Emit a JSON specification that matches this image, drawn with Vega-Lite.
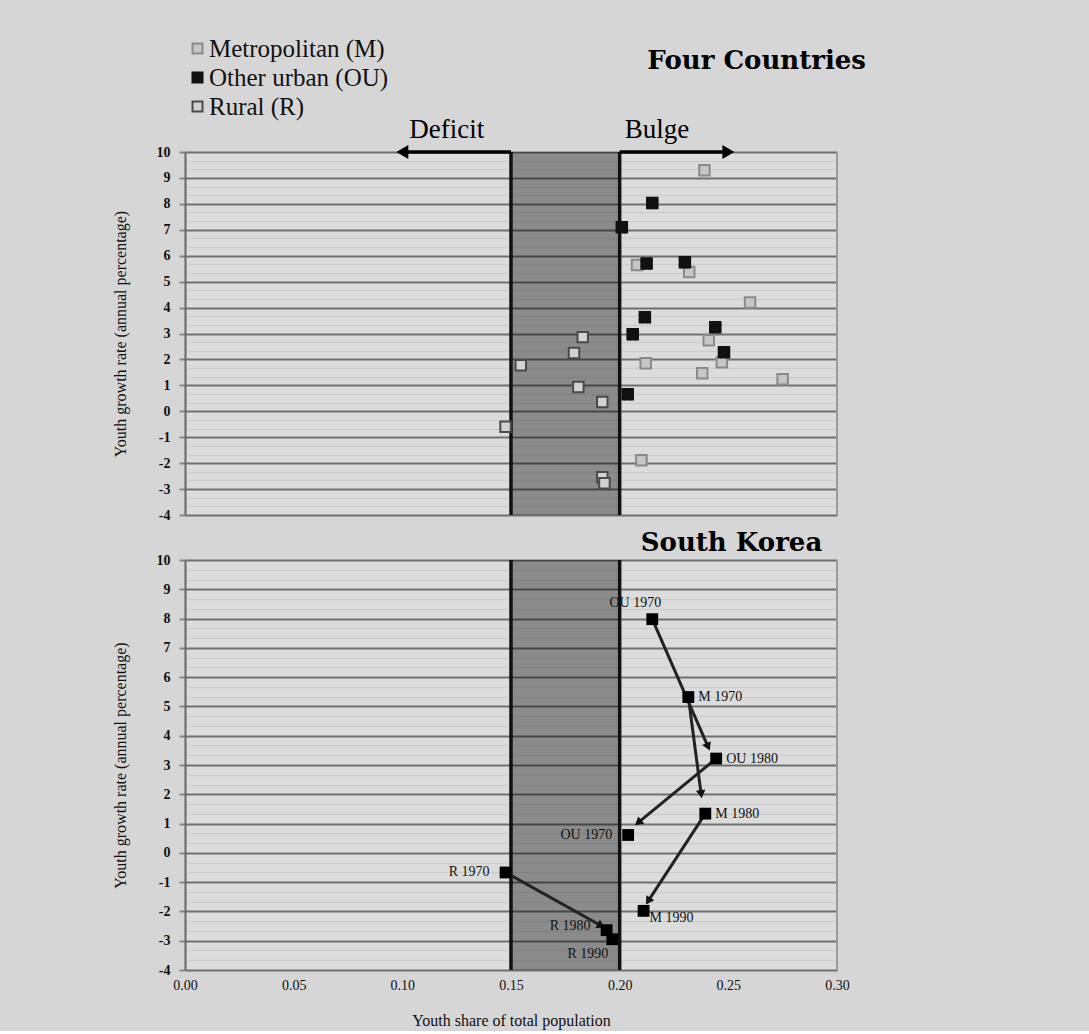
{
  "$schema": "https://vega.github.io/schema/vega-lite/v6.json",
  "background": "#d6d6d6",
  "padding": {"left": 112, "top": 36, "right": 224, "bottom": 3},
  "spacing": 8,
  "config": {
    "view": {"stroke": null, "fill": "#dcdcdc"},
    "font": "Liberation Serif",
    "axis": {"labelFont": "Liberation Serif", "titleFont": "Liberation Serif", "labelColor": "#111", "titleColor": "#111", "titleFontWeight": "normal"}
  },
  "datasets": {
    "four": [
      {"cat": "Metropolitan (M)", "x": 0.239, "y": 9.3},
      {"cat": "Metropolitan (M)", "x": 0.208, "y": 5.64},
      {"cat": "Metropolitan (M)", "x": 0.232, "y": 5.37},
      {"cat": "Metropolitan (M)", "x": 0.26, "y": 4.2},
      {"cat": "Metropolitan (M)", "x": 0.241, "y": 2.74},
      {"cat": "Metropolitan (M)", "x": 0.247, "y": 1.89},
      {"cat": "Metropolitan (M)", "x": 0.212, "y": 1.85},
      {"cat": "Metropolitan (M)", "x": 0.238, "y": 1.47},
      {"cat": "Metropolitan (M)", "x": 0.275, "y": 1.24},
      {"cat": "Metropolitan (M)", "x": 0.21, "y": -1.89},
      {"cat": "Other urban (OU)", "x": 0.215, "y": 8.03},
      {"cat": "Other urban (OU)", "x": 0.201, "y": 7.1},
      {"cat": "Other urban (OU)", "x": 0.2124, "y": 5.7},
      {"cat": "Other urban (OU)", "x": 0.23, "y": 5.75},
      {"cat": "Other urban (OU)", "x": 0.2116, "y": 3.63},
      {"cat": "Other urban (OU)", "x": 0.206, "y": 2.97},
      {"cat": "Other urban (OU)", "x": 0.244, "y": 3.24},
      {"cat": "Other urban (OU)", "x": 0.248, "y": 2.28},
      {"cat": "Other urban (OU)", "x": 0.2037, "y": 0.66},
      {"cat": "Rural (R)", "x": 0.183, "y": 2.86},
      {"cat": "Rural (R)", "x": 0.179, "y": 2.25},
      {"cat": "Rural (R)", "x": 0.1545, "y": 1.78},
      {"cat": "Rural (R)", "x": 0.181, "y": 0.94},
      {"cat": "Rural (R)", "x": 0.192, "y": 0.36},
      {"cat": "Rural (R)", "x": 0.1475, "y": -0.6},
      {"cat": "Rural (R)", "x": 0.192, "y": -2.54},
      {"cat": "Rural (R)", "x": 0.193, "y": -2.78}
    ],
    "sk": [
      {"cat": "M", "year": 1970, "x": 0.2316, "y": 5.32, "label": "M 1970"},
      {"cat": "M", "year": 1980, "x": 0.2394, "y": 1.34, "label": "M 1980"},
      {"cat": "M", "year": 1990, "x": 0.211, "y": -1.98, "label": "M 1990"},
      {"cat": "OU", "year": 1970, "x": 0.215, "y": 7.98, "label": "OU 1970"},
      {"cat": "OU", "year": 1980, "x": 0.2444, "y": 3.22, "label": "OU 1980"},
      {"cat": "OU", "year": 1990, "x": 0.2039, "y": 0.61, "label": "OU 1970"},
      {"cat": "R", "year": 1970, "x": 0.1475, "y": -0.67, "label": "R 1970"},
      {"cat": "R", "year": 1980, "x": 0.194, "y": -2.64, "label": "R 1980"},
      {"cat": "R", "year": 1990, "x": 0.1966, "y": -2.95, "label": "R 1990"}
    ],
    "arrows": [
      {"cat": "OU", "x": 0.215, "y": 7.98, "x2": 0.2407, "y2": 3.62},
      {"cat": "OU", "x": 0.2444, "y": 3.22, "x2": 0.2085, "y2": 1.03},
      {"cat": "M", "x": 0.2316, "y": 5.32, "x2": 0.2375, "y2": 2.0},
      {"cat": "M", "x": 0.2394, "y": 1.34, "x2": 0.2131, "y2": -1.65},
      {"cat": "R", "x": 0.1475, "y": -0.67, "x2": 0.1915, "y2": -2.49}
    ]
  },
  "vconcat": [
    {
      "width": 652,
      "height": 363,
      "title": {"text": "Four Countries", "anchor": "end", "fontSize": 26, "fontWeight": "bold", "font": "DejaVu Serif", "color": "#000", "offset": 42, "dx": 28},
      "layer": [
        {
          "data": {"values": [{}]},
          "mark": {"type": "rect", "color": "#000", "opacity": 0.37},
          "encoding": {
            "x": {"datum": 0.15, "type": "quantitative", "scale": {"domain": [0, 0.3], "nice": false}, "axis": null},
            "x2": {"datum": 0.2},
            "y": {"datum": -4, "type": "quantitative", "scale": {"domain": [-4, 10], "nice": false},
              "axis": {"orient": "left", "tickCount": 200, "values": [-4, -3.6667, -3.3333, -3, -2.6667, -2.3333, -2, -1.6667, -1.3333, -1, -0.6667, -0.3333, 0, 0.3333, 0.6667, 1, 1.3333, 1.6667, 2, 2.3333, 2.6667, 3, 3.3333, 3.6667, 4, 4.3333, 4.6667, 5, 5.3333, 5.6667, 6, 6.3333, 6.6667, 7, 7.3333, 7.6667, 8, 8.3333, 8.6667, 9, 9.3333, 9.6667, 10],
                "labelExpr": "datum.value % 1 === 0 ? datum.value + '' : ''", "labelOverlap": false, "labelFlush": false,
                "grid": true,
                "gridColor": {"condition": {"test": "datum.value % 1 === 0", "value": "#707070"}, "value": "#cdcdcd"},
                "gridWidth": {"condition": {"test": "datum.value % 1 === 0", "value": 2}, "value": 1.5},
                "tickColor": {"condition": {"test": "datum.value % 1 === 0", "value": "#888888"}, "value": "transparent"},
                "domainColor": "#666", "domainWidth": 2, "tickSize": 6, "tickWidth": 2,
                "labelFontSize": 14, "labelFontWeight": "bold", "labelPadding": 9, "titleFontSize": 16, "titlePadding": 28, "title": "Youth growth rate (annual percentage)"}},
            "y2": {"datum": 10}
          }
        },
        {
          "data": {"values": [{}]},
          "mark": {"type": "rule", "color": "#9a9a9a", "strokeWidth": 2},
          "encoding": {"x": {"datum": 0.3}, "y": {"datum": -4}, "y2": {"datum": 10}}
        },
        {
          "data": {"values": [{}]},
          "mark": {"type": "rule", "color": "#111", "strokeWidth": 3.5},
          "encoding": {"x": {"datum": 0.15}, "y": {"datum": -4}, "y2": {"datum": 10}}
        },
        {
          "data": {"values": [{}]},
          "mark": {"type": "rule", "color": "#111", "strokeWidth": 3.5},
          "encoding": {"x": {"datum": 0.2}, "y": {"datum": -4}, "y2": {"datum": 10}}
        },
        {
          "data": {"values": [{}]},
          "mark": {"type": "rule", "color": "#000", "strokeWidth": 3.5},
          "encoding": {"x": {"datum": 0.1}, "x2": {"datum": 0.15}, "y": {"datum": 10}}
        },
        {
          "data": {"values": [{}]},
          "mark": {"type": "rule", "color": "#000", "strokeWidth": 3.5},
          "encoding": {"x": {"datum": 0.2}, "x2": {"datum": 0.25}, "y": {"datum": 10}}
        },
        {
          "data": {"values": [{}]},
          "mark": {"type": "point", "shape": "triangle-left", "filled": true, "color": "#000", "size": 190, "opacity": 1},
          "encoding": {"x": {"datum": 0.1}, "y": {"datum": 10}}
        },
        {
          "data": {"values": [{}]},
          "mark": {"type": "point", "shape": "triangle-right", "filled": true, "color": "#000", "size": 190, "opacity": 1},
          "encoding": {"x": {"datum": 0.25}, "y": {"datum": 10}}
        },
        {
          "data": {"values": [{}]},
          "mark": {"type": "text", "text": "Deficit", "font": "Liberation Serif", "fontSize": 27, "align": "left", "baseline": "alphabetic", "dx": 7, "dy": -14, "color": "#000"},
          "encoding": {"x": {"datum": 0.1}, "y": {"datum": 10}}
        },
        {
          "data": {"values": [{}]},
          "mark": {"type": "text", "text": "Bulge", "font": "Liberation Serif", "fontSize": 27, "align": "left", "baseline": "alphabetic", "dx": 5, "dy": -14, "color": "#000"},
          "encoding": {"x": {"datum": 0.2}, "y": {"datum": 10}}
        },
        {
          "data": {"name": "four"},
          "mark": {"type": "point", "shape": "square", "size": 110, "strokeWidth": 2, "opacity": 1},
          "encoding": {
            "x": {"field": "x", "type": "quantitative"},
            "y": {"field": "y", "type": "quantitative"},
            "fill": {"field": "cat", "type": "nominal", "scale": {"domain": ["Metropolitan (M)", "Other urban (OU)", "Rural (R)"], "range": ["#c6c6c6", "#111111", "#d2d2d2"]},
              "legend": {"title": null, "orient": "none", "legendX": 0, "legendY": -116, "labelFontSize": 25, "labelLimit": 400, "labelFont": "Liberation Serif", "labelColor": "#111", "symbolType": "square", "symbolSize": 100, "symbolStrokeWidth": 2, "rowPadding": 3, "labelOffset": -1, "padding": 0}},
            "stroke": {"field": "cat", "type": "nominal", "scale": {"domain": ["Metropolitan (M)", "Other urban (OU)", "Rural (R)"], "range": ["#8a8a8a", "#111111", "#4a4a4a"]},
              "legend": {"title": null, "orient": "none", "legendX": 0, "legendY": -116, "labelFontSize": 25, "labelLimit": 400, "labelFont": "Liberation Serif", "labelColor": "#111", "symbolType": "square", "symbolSize": 100, "symbolStrokeWidth": 2, "rowPadding": 3, "labelOffset": -1, "padding": 0}}
          }
        },
        {
          "data": {"name": "four"},
          "transform": [{"filter": "datum.cat === 'Other urban (OU)'"}],
          "mark": {"type": "point", "shape": "cross", "angle": 45, "filled": true, "color": "#111", "size": 170, "opacity": 1},
          "encoding": {
            "x": {"field": "x", "type": "quantitative"},
            "y": {"field": "y", "type": "quantitative"}
          }
        }
      ]
    },
    {
      "width": 652,
      "height": 410,
      "title": {"text": "South Korea", "anchor": "end", "fontSize": 26, "fontWeight": "bold", "font": "DejaVu Serif", "color": "#000", "offset": -3, "dx": -27},
      "layer": [
        {
          "data": {"values": [{}]},
          "mark": {"type": "rect", "color": "#000", "opacity": 0.37},
          "encoding": {
            "x": {"datum": 0.15, "type": "quantitative", "scale": {"domain": [0, 0.3], "nice": false},
              "axis": {"values": [0, 0.05, 0.1, 0.15, 0.2, 0.25, 0.3], "tickCount": 50, "format": ".2f", "labelFlush": false, "grid": false, "domain": false, "ticks": false, "labelFontSize": 14, "labelPadding": 8, "titleFontSize": 16, "titlePadding": 20, "title": "Youth share of total population"}},
            "x2": {"datum": 0.2},
            "y": {"datum": -4, "type": "quantitative", "scale": {"domain": [-4, 10], "nice": false},
              "axis": {"orient": "left", "tickCount": 200, "values": [-4, -3.6667, -3.3333, -3, -2.6667, -2.3333, -2, -1.6667, -1.3333, -1, -0.6667, -0.3333, 0, 0.3333, 0.6667, 1, 1.3333, 1.6667, 2, 2.3333, 2.6667, 3, 3.3333, 3.6667, 4, 4.3333, 4.6667, 5, 5.3333, 5.6667, 6, 6.3333, 6.6667, 7, 7.3333, 7.6667, 8, 8.3333, 8.6667, 9, 9.3333, 9.6667, 10],
                "labelExpr": "datum.value % 1 === 0 ? datum.value + '' : ''", "labelOverlap": false, "labelFlush": false,
                "grid": true,
                "gridColor": {"condition": {"test": "datum.value % 1 === 0", "value": "#707070"}, "value": "#cdcdcd"},
                "gridWidth": {"condition": {"test": "datum.value % 1 === 0", "value": 2}, "value": 1.5},
                "tickColor": {"condition": {"test": "datum.value % 1 === 0", "value": "#888888"}, "value": "transparent"},
                "domainColor": "#666", "domainWidth": 2, "tickSize": 6, "tickWidth": 2,
                "labelFontSize": 14, "labelFontWeight": "bold", "labelPadding": 9, "titleFontSize": 16, "titlePadding": 28, "title": "Youth growth rate (annual percentage)"}},
            "y2": {"datum": 10}
          }
        },
        {
          "data": {"values": [{}]},
          "mark": {"type": "rule", "color": "#9a9a9a", "strokeWidth": 2},
          "encoding": {"x": {"datum": 0.3}, "y": {"datum": -4}, "y2": {"datum": 10}}
        },
        {
          "data": {"values": [{}]},
          "mark": {"type": "rule", "color": "#111", "strokeWidth": 3.5},
          "encoding": {"x": {"datum": 0.15}, "y": {"datum": -4}, "y2": {"datum": 10}}
        },
        {
          "data": {"values": [{}]},
          "mark": {"type": "rule", "color": "#111", "strokeWidth": 3.5},
          "encoding": {"x": {"datum": 0.2}, "y": {"datum": -4}, "y2": {"datum": 10}}
        },
        {
          "data": {"name": "arrows"},
          "mark": {"type": "rule", "color": "#222", "strokeWidth": 3},
          "encoding": {
            "x": {"field": "x", "type": "quantitative"},
            "y": {"field": "y", "type": "quantitative"},
            "x2": {"field": "x2"},
            "y2": {"field": "y2"}
          }
        },
        {
          "data": {"name": "arrows"},
          "transform": [{"calculate": "atan2((datum.x2 - datum.x) * 2173, (datum.y2 - datum.y) * 29.3) * 180 / PI", "as": "ang"}],
          "mark": {"type": "point", "shape": "triangle-up", "filled": true, "color": "#111", "size": 90, "opacity": 1},
          "encoding": {
            "x": {"field": "x2", "type": "quantitative"},
            "y": {"field": "y2", "type": "quantitative"},
            "angle": {"field": "ang", "type": "quantitative", "scale": null}
          }
        },
        {
          "data": {"name": "sk"},
          "mark": {"type": "point", "shape": "square", "filled": true, "color": "#000", "size": 140, "opacity": 1},
          "encoding": {
            "x": {"field": "x", "type": "quantitative"},
            "y": {"field": "y", "type": "quantitative"}
          }
        },
        {
          "data": {"name": "sk"},
          "transform": [{"filter": "datum.label === 'M 1970' || datum.label === 'OU 1980' || datum.label === 'M 1980'"}],
          "mark": {"type": "text", "font": "Liberation Serif", "fontSize": 14, "align": "left", "baseline": "middle", "dx": 10, "color": "#111"},
          "encoding": {
            "x": {"field": "x", "type": "quantitative"},
            "y": {"field": "y", "type": "quantitative"},
            "text": {"field": "label"}
          }
        },
        {
          "data": {"name": "sk"},
          "transform": [{"filter": "datum.label === 'M 1990'"}],
          "mark": {"type": "text", "font": "Liberation Serif", "fontSize": 14, "align": "left", "baseline": "middle", "dx": 6, "dy": 7, "color": "#111"},
          "encoding": {
            "x": {"field": "x", "type": "quantitative"},
            "y": {"field": "y", "type": "quantitative"},
            "text": {"field": "label"}
          }
        },
        {
          "data": {"name": "sk"},
          "transform": [{"filter": "datum.year === 1970 && datum.cat === 'OU'"}],
          "mark": {"type": "text", "font": "Liberation Serif", "fontSize": 14, "align": "center", "baseline": "middle", "dx": -17, "dy": -16, "color": "#111"},
          "encoding": {
            "x": {"field": "x", "type": "quantitative"},
            "y": {"field": "y", "type": "quantitative"},
            "text": {"field": "label"}
          }
        },
        {
          "data": {"name": "sk"},
          "transform": [{"filter": "(datum.year === 1990 && datum.cat === 'OU') || datum.label === 'R 1970'"}],
          "mark": {"type": "text", "font": "Liberation Serif", "fontSize": 14, "align": "right", "baseline": "middle", "dx": -16, "color": "#111"},
          "encoding": {
            "x": {"field": "x", "type": "quantitative"},
            "y": {"field": "y", "type": "quantitative"},
            "text": {"field": "label"}
          }
        },
        {
          "data": {"name": "sk"},
          "transform": [{"filter": "datum.label === 'R 1980'"}],
          "mark": {"type": "text", "font": "Liberation Serif", "fontSize": 14, "align": "right", "baseline": "middle", "dx": -16, "dy": -4, "color": "#111"},
          "encoding": {
            "x": {"field": "x", "type": "quantitative"},
            "y": {"field": "y", "type": "quantitative"},
            "text": {"field": "label"}
          }
        },
        {
          "data": {"name": "sk"},
          "transform": [{"filter": "datum.label === 'R 1990'"}],
          "mark": {"type": "text", "font": "Liberation Serif", "fontSize": 14, "align": "right", "baseline": "middle", "dx": -4, "dy": 15, "color": "#111"},
          "encoding": {
            "x": {"field": "x", "type": "quantitative"},
            "y": {"field": "y", "type": "quantitative"},
            "text": {"field": "label"}
          }
        }
      ]
    }
  ]
}
